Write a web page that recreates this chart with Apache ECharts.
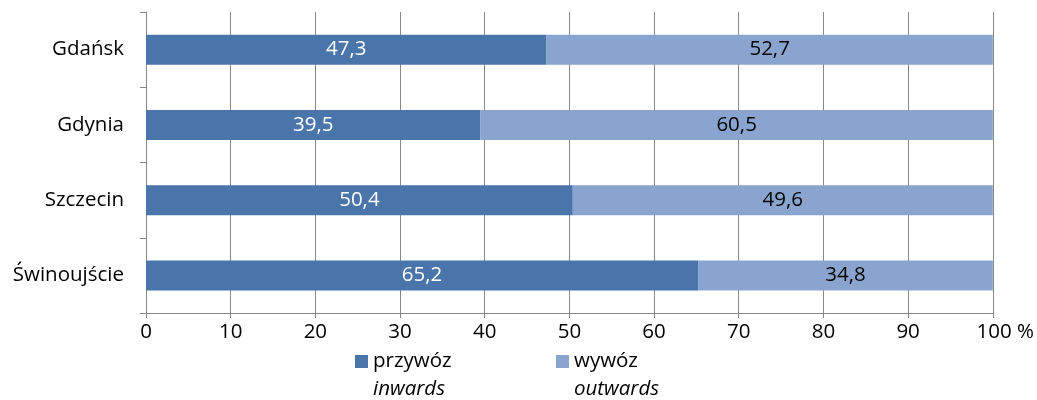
<!DOCTYPE html>
<html>
<head>
<meta charset="utf-8">
<script src="https://cdn.jsdelivr.net/npm/echarts@6/dist/echarts.min.js"></script>
<style>
  html, body { margin: 0; padding: 0; background: #fff; }
  #chart { width: 1037px; height: 400px; }
</style>
</head>
<body>
<div id="chart"></div>
<script>
// Ports, top to bottom
const ports = ['Gdańsk', 'Gdynia', 'Szczecin', 'Świnoujście'];
// Share of cargo turnover, %
const inwards = [47.3, 39.5, 50.4, 65.2];
const outwards = [52.7, 60.5, 49.6, 34.8];
// Series names (Polish) and their English subtitles
const seriesNames = ['przywóz', 'wywóz'];
const seriesSubtitles = ['inwards', 'outwards'];
const axisMax = 100;
const axisStep = 10;

const FONT = '"Open Sans", sans-serif';
const FS = 20.5;
const GRAY = '#878787';
const colors = ['#4a75ab', '#89a5cf'];

const fmt = v => v.toFixed(1).replace('.', ',');

function legendFor(i, left) {
  return {
    data: [seriesNames[i]],
    left: left,
    top: 323,
    padding: 0,
    itemWidth: 13,
    itemHeight: 13,
    itemGap: 0,
    icon: 'rect',
    formatter: name => '{e| }\n{a|' + name + '}\n{b|' + seriesSubtitles[seriesNames.indexOf(name)] + '}',
    textStyle: {
      fontFamily: FONT,
      fontSize: FS,
      color: '#000',
      padding: [0, 0, 0, 0],
      rich: {
        e: { fontSize: FS, lineHeight: 28, fontFamily: FONT },
        a: { fontSize: FS, lineHeight: 28, fontFamily: FONT, color: '#000' },
        b: { fontSize: FS, lineHeight: 28, fontFamily: FONT, color: '#000', fontStyle: 'italic' }
      }
    }
  };
}

const chart = echarts.init(document.getElementById('chart'), null, { renderer: 'canvas' });
chart.setOption({
  animation: false,
  backgroundColor: '#fff',
  grid: { left: 146, right: 44, top: 12, bottom: 87, containLabel: false },
  legend: [legendFor(0, 355), legendFor(1, 556)],
  xAxis: {
    type: 'value',
    min: 0,
    max: axisMax,
    interval: axisStep,
    axisLine: { show: true, lineStyle: { color: GRAY, width: 1 } },
    axisTick: { show: true, length: 5, lineStyle: { color: GRAY } },
    splitLine: { show: true, lineStyle: { color: GRAY, width: 1 } },
    axisLabel: {
      fontFamily: FONT, fontSize: FS, color: '#000', margin: 9,
      // the unit sign hangs to the right of the last number
      formatter: v => v === axisMax ? '{last|' + v + ' %}' : String(v),
      rich: {
        last: { fontFamily: FONT, fontSize: FS, color: '#000', padding: [0, 0, 0, 25] }
      }
    }
  },
  yAxis: {
    type: 'category',
    data: ports,
    inverse: true,
    axisLine: { show: true, lineStyle: { color: GRAY, width: 1 } },
    axisTick: { show: true, length: 6, lineStyle: { color: GRAY } },
    splitLine: { show: false },
    axisLabel: { fontFamily: FONT, fontSize: FS, color: '#000', margin: 22 }
  },
  series: [
    {
      name: seriesNames[0],
      type: 'bar',
      stack: 'total',
      data: inwards,
      barWidth: 30,
      itemStyle: { color: colors[0] },
      label: {
        show: true, position: 'inside', fontFamily: FONT, fontSize: FS, color: '#fff',
        formatter: p => fmt(p.value)
      }
    },
    {
      name: seriesNames[1],
      type: 'bar',
      stack: 'total',
      data: outwards,
      barWidth: 30,
      itemStyle: { color: colors[1] },
      label: {
        show: true, position: 'inside', fontFamily: FONT, fontSize: FS, color: '#000',
        formatter: p => fmt(p.value)
      }
    }
  ]
});
</script>
</body>
</html>
